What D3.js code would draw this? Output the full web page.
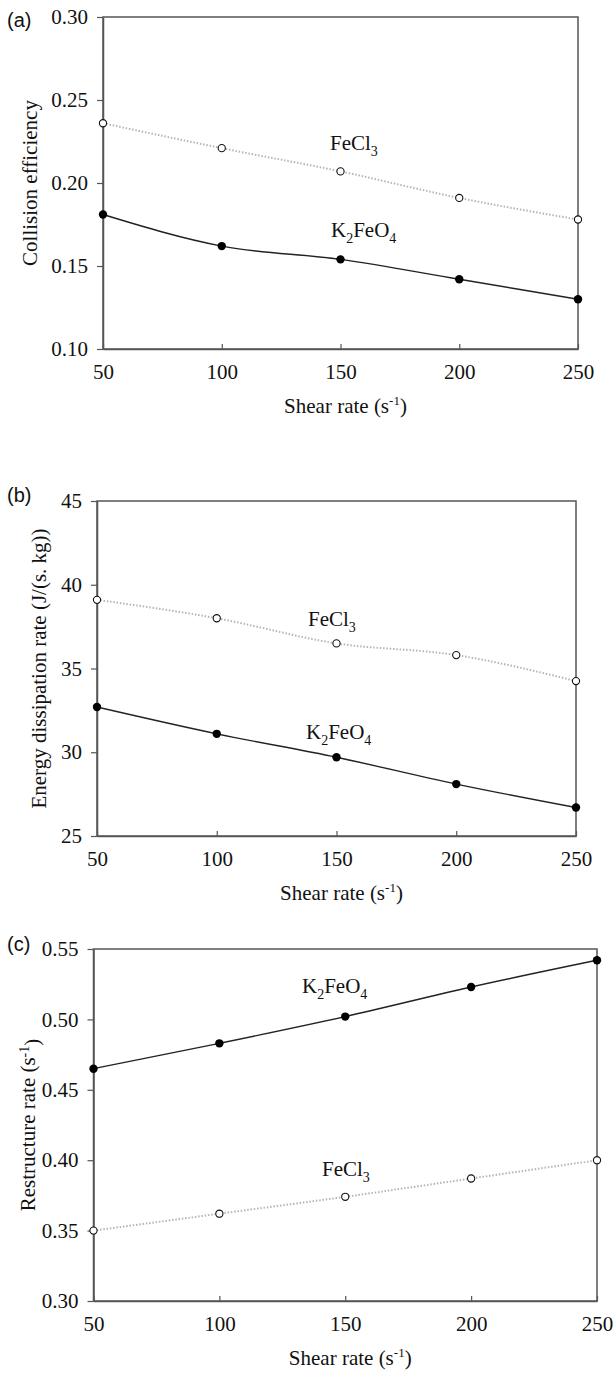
<!DOCTYPE html>
<html>
<head>
<meta charset="utf-8">
<script src="https://cdn.jsdelivr.net/npm/d3@7"></script>
<style>
  body { margin: 0; background: #fff; }
  svg text { font-family: "Liberation Serif", "Times New Roman", serif; fill: #111; }
  svg text.plabel { font-family: "Liberation Sans", Arial, sans-serif; }
</style>
</head>
<body>
<div id="chart"></div>
<script>
// shear rate (s^-1), shared by all three panels
var shear = [50, 100, 150, 200, 250];
var xTicks = [50, 100, 150, 200, 250];

// (a) collision efficiency
var collisionFeCl3 = [0.236, 0.221, 0.207, 0.191, 0.178];
var collisionK2FeO4 = [0.181, 0.162, 0.154, 0.142, 0.130];
var collisionTicks = [0.10, 0.15, 0.20, 0.25, 0.30];

// (b) energy dissipation rate
var energyFeCl3 = [39.1, 38.0, 36.5, 35.8, 34.25];
var energyK2FeO4 = [32.7, 31.1, 29.7, 28.1, 26.7];
var energyTicks = [25, 30, 35, 40, 45];

// (c) restructure rate
var restructK2FeO4 = [0.465, 0.483, 0.502, 0.523, 0.542];
var restructFeCl3 = [0.350, 0.362, 0.374, 0.387, 0.400];
var restructTicks = [0.30, 0.35, 0.40, 0.45, 0.50, 0.55];

var W = 616, H = 1373;
var serif = '"Liberation Serif", "Times New Roman", serif';
var svg = d3.select("#chart").append("svg")
    .attr("width", W)
    .attr("height", H);

var panels = [
  { tag: "(a)", left: 103, right: 578, top: 17, bottom: 349,
    yDomain: [0.10, 0.30], yTicks: collisionTicks, fmt: d3.format(".2f"),
    feCl3: collisionFeCl3, k2: collisionK2FeO4,
    yTitle: "Collision efficiency", yTitleX: 30, tagY: 20,
    feLab: [330, 143], kLab: [331, 230] },
  { tag: "(b)", left: 97, right: 576, top: 501, bottom: 836,
    yDomain: [25, 45], yTicks: energyTicks, fmt: d3.format("d"),
    feCl3: energyFeCl3, k2: energyK2FeO4,
    yTitle: "Energy dissipation rate (J/(s. kg))", yTitleX: 39, tagY: 495,
    feLab: [308, 619], kLab: [306, 732] },
  { tag: "(c)", left: 93.5, right: 597, top: 949, bottom: 1301,
    yDomain: [0.30, 0.55], yTicks: restructTicks, fmt: d3.format(".2f"),
    feCl3: restructFeCl3, k2: restructK2FeO4,
    yTitle: "Restructure rate (s", yTitleSup: true, yTitleX: 28, tagY: 944,
    feLab: [322, 1169], kLab: [302, 986] }
];

panels.forEach(function (p) {
  var x = d3.scaleLinear().domain([50, 250]).range([p.left, p.right]);
  var y = d3.scaleLinear().domain(p.yDomain).range([p.bottom, p.top]);
  var g = svg.append("g");

  // frame
  g.append("rect")
      .attr("x", p.left).attr("y", p.top)
      .attr("width", p.right - p.left).attr("height", p.bottom - p.top)
      .attr("fill", "none").attr("stroke", "#555").attr("stroke-width", 1.5);

  // axes
  var xAxis = g.append("g")
      .attr("transform", "translate(0," + p.bottom + ")")
      .call(d3.axisBottom(x).tickValues(xTicks).tickSizeInner(-5).tickSizeOuter(0).tickPadding(15));
  var yAxis = g.append("g")
      .attr("transform", "translate(" + p.left + ",0)")
      .call(d3.axisLeft(y).tickValues(p.yTicks).tickFormat(p.fmt).tickSizeInner(6).tickSizeOuter(0).tickPadding(9));
  [xAxis, yAxis].forEach(function (a) {
    a.attr("font-family", null).attr("font-size", null);
    a.select(".domain").attr("stroke", "#555").attr("stroke-width", 1.5);
    a.selectAll(".tick line").attr("stroke", "#555").attr("stroke-width", 1.2);
    a.selectAll(".tick text")
        .style("font-family", serif)
        .style("font-size", "21px").attr("fill", "#111");
  });

  // x title
  var xt = g.append("text")
      .attr("x", (p.left + p.right) / 2 + 5).attr("y", p.bottom + 64)
      .attr("text-anchor", "middle").attr("font-size", 21);
  xt.append("tspan").text("Shear rate (s");
  xt.append("tspan").attr("dy", -8).attr("font-size", 13).text("-1");
  xt.append("tspan").attr("dy", 8).text(")");

  // y title
  var yt = g.append("text")
      .attr("transform", "translate(" + p.yTitleX + "," + (p.top + p.bottom) / 2 + ") rotate(-90)")
      .attr("text-anchor", "middle").attr("dy", "0.35em").attr("font-size", 21);
  yt.append("tspan").text(p.yTitle);
  if (p.yTitleSup) {
    yt.append("tspan").attr("dy", "-0.45em").attr("font-size", 14).text("-1");
    yt.append("tspan").attr("dy", "0.45em").text(")");
  }

  // panel tag
  g.append("text").attr("class", "plabel")
      .attr("x", 7).attr("y", p.tagY).attr("dy", "0.35em")
      .attr("font-size", 20).text(p.tag);

  // lines
  var line = d3.line()
      .x(function (d, i) { return x(shear[i]); })
      .y(function (d) { return y(d); })
      .curve(d3.curveMonotoneX);

  g.append("path").datum(p.feCl3)
      .attr("d", line).attr("fill", "none")
      .attr("stroke", "#b5b5b5").attr("stroke-width", 2)
      .attr("stroke-dasharray", "1.5,1.8");
  g.append("path").datum(p.k2)
      .attr("d", line).attr("fill", "none")
      .attr("stroke", "#222").attr("stroke-width", 1.4);

  // markers
  g.selectAll("circle.fe").data(p.feCl3).enter().append("circle")
      .attr("class", "fe")
      .attr("cx", function (d, i) { return x(shear[i]); })
      .attr("cy", function (d) { return y(d); })
      .attr("r", 3.6).attr("fill", "#fff").attr("stroke", "#111").attr("stroke-width", 1.1);
  g.selectAll("circle.k2").data(p.k2).enter().append("circle")
      .attr("class", "k2")
      .attr("cx", function (d, i) { return x(shear[i]); })
      .attr("cy", function (d) { return y(d); })
      .attr("r", 4.2).attr("fill", "#000");

  // series labels
  var fe = g.append("text").attr("x", p.feLab[0]).attr("y", p.feLab[1])
      .attr("dy", "0.35em").attr("font-size", 21);
  fe.append("tspan").text("FeCl");
  fe.append("tspan").attr("dy", 6).attr("font-size", 14).text("3");

  var k = g.append("text").attr("x", p.kLab[0]).attr("y", p.kLab[1])
      .attr("dy", "0.35em").attr("font-size", 21);
  k.append("tspan").text("K");
  k.append("tspan").attr("dy", 6).attr("font-size", 14).text("2");
  k.append("tspan").attr("dy", -6).text("FeO");
  k.append("tspan").attr("dy", 6).attr("font-size", 14).text("4");
});
</script>
</body>
</html>
